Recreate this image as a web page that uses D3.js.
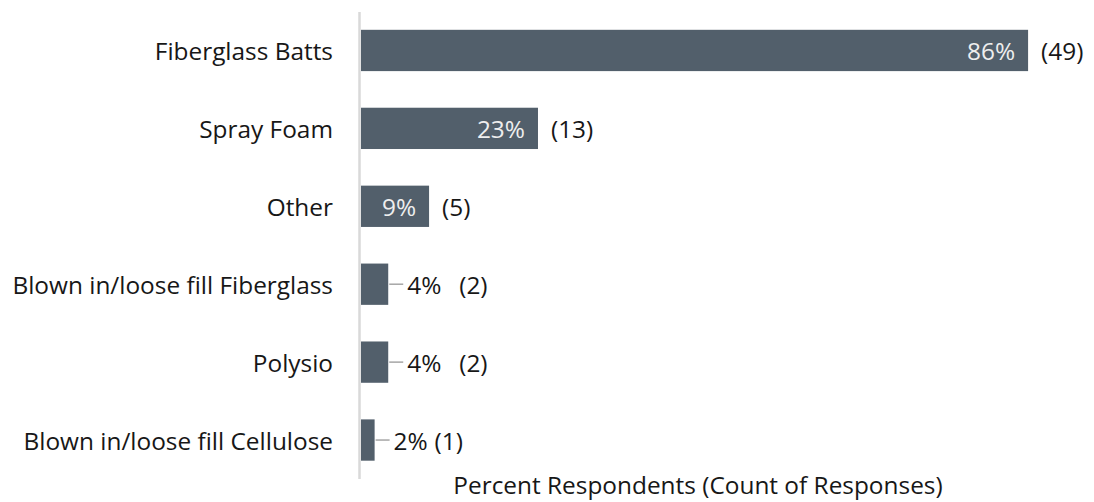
<!DOCTYPE html>
<html>
<head>
<meta charset="utf-8">
<script src="https://cdn.jsdelivr.net/npm/d3@7"></script>
<style>
  html, body { margin: 0; padding: 0; background: #ffffff; }
  svg text { font-family: "Open Sans", "Noto Sans", sans-serif; }
</style>
</head>
<body>
<svg id="chart" width="1094" height="502"></svg>
<script>
// Insulation types and how many respondents named each one
const categories = [
  "Fiberglass Batts",
  "Spray Foam",
  "Other",
  "Blown in/loose fill Fiberglass",
  "Polysio",
  "Blown in/loose fill Cellulose"
];
const counts = [49, 13, 5, 2, 2, 1];
const totalRespondents = 57;
const axisTitle = "Percent Respondents (Count of Responses)";

const data = categories.map((c, i) => ({
  category: c,
  count: counts[i],
  share: counts[i] / totalRespondents
}));

const svg = d3.select("#chart");
const fontSize = 24.4;
const textColor = "#171717";
const barColor = "#525f6b";

const x = d3.scaleLinear().domain([0, 1]).range([361, 1137]);
const y = d3.scaleBand().domain(categories).range([11.5, 479]).paddingInner(0.47).paddingOuter(0.235);

// vertical category axis line
svg.append("line")
  .attr("x1", 359.5).attr("x2", 359.5)
  .attr("y1", 12).attr("y2", 479)
  .attr("stroke", "#d9d9d9").attr("stroke-width", 2.5);

// category labels
svg.append("g").selectAll("text")
  .data(data).join("text")
  .attr("x", 333)
  .attr("y", d => y(d.category) + y.bandwidth() / 2)
  .attr("text-anchor", "end")
  .attr("dominant-baseline", "central")
  .attr("font-size", fontSize)
  .attr("fill", textColor)
  .text(d => d.category);

// bars
svg.append("g").selectAll("rect")
  .data(data).join("rect")
  .attr("x", x(0))
  .attr("y", d => y(d.category))
  .attr("width", d => x(d.share) - x(0))
  .attr("height", y.bandwidth())
  .attr("fill", barColor);

const pct = d3.format(".0%");
const insideMin = 0.05; // bars narrower than this carry their percent outside

const labels = svg.append("g").selectAll("g")
  .data(data).join("g")
  .attr("transform", d => `translate(0,${y(d.category) + y.bandwidth() / 2})`);

// percent label, inside the end of wide bars
labels.filter(d => d.share >= insideMin).append("text")
  .attr("x", d => x(d.share) - 13)
  .attr("text-anchor", "end")
  .attr("dominant-baseline", "central")
  .attr("font-size", fontSize)
  .attr("fill", "#eeeeee")
  .text(d => pct(d.share));

// count label after wide bars
labels.filter(d => d.share >= insideMin).append("text")
  .attr("x", d => x(d.share) + 13)
  .attr("dominant-baseline", "central")
  .attr("font-size", fontSize)
  .attr("fill", textColor)
  .text(d => `(${d.count})`);

// narrow bars: leader line, then percent and count
const narrow = labels.filter(d => d.share < insideMin);
narrow.append("line")
  .attr("x1", d => x(d.share) + 1)
  .attr("x2", d => x(d.share) + 15)
  .attr("y1", 0).attr("y2", 0)
  .attr("stroke", "#a6a6a6").attr("stroke-width", 1.5);
narrow.append("text")
  .attr("x", d => x(d.share) + 19)
  .attr("dominant-baseline", "central")
  .attr("font-size", fontSize)
  .attr("fill", textColor)
  .text(d => pct(d.share));
narrow.append("text")
  .attr("x", d => x(d.share) + 19 + (d.count < 2 ? 41 : 52))
  .attr("dominant-baseline", "central")
  .attr("font-size", fontSize)
  .attr("fill", textColor)
  .text(d => `(${d.count})`);

// axis title
svg.append("text")
  .attr("x", 698)
  .attr("y", 494)
  .attr("text-anchor", "middle")
  .attr("font-size", fontSize)
  .attr("fill", textColor)
  .text(axisTitle);
</script>
</body>
</html>
